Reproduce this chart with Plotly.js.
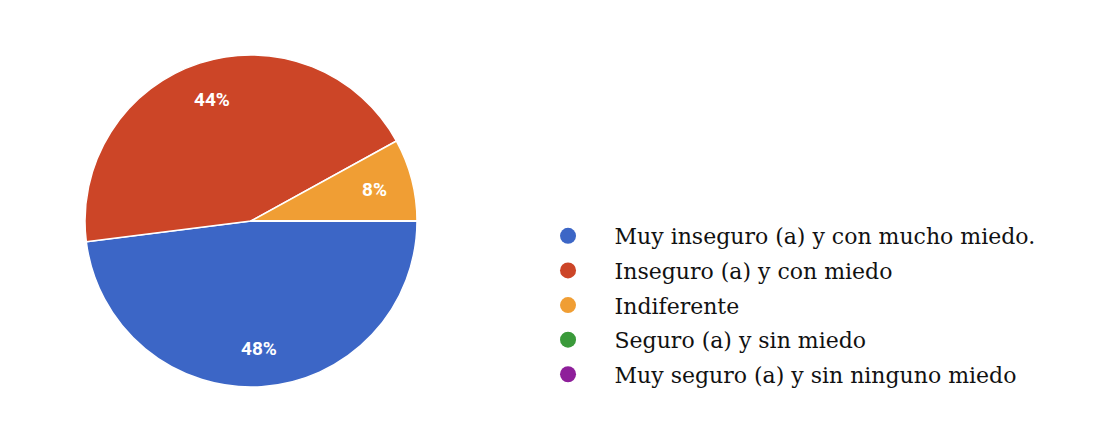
<!DOCTYPE html>
<html>
<head>
<meta charset="utf-8">
<script src="https://cdn.plot.ly/plotly-3.0.1.min.js"></script>
<style>
  html, body { margin: 0; padding: 0; background: #fff; }
  #chart { width: 1112px; height: 448px; }
</style>
</head>
<body>
<div id="chart"></div>
<script>
// survey answers and their share (%)
const labels = [
    'Muy inseguro (a) y con mucho miedo.',
    'Inseguro (a) y con miedo',
    'Indiferente',
    'Seguro (a) y sin miedo',
    'Muy seguro (a) y sin ninguno miedo'
];
const values = [48, 44, 8, 0, 0];
const colors = ['#3c66c6', '#cc4527', '#f09e34', '#3a9a3a', '#8e1f9a'];

const W = 1112, H = 448;
const cx = 251, cy = 221, r = 166;
const startAngle = 0;      // slices start at 3 o'clock, going clockwise
const labelRadius = 0.77;  // labels sit out toward the rim

const pie = {
    type: 'pie',
    labels: labels,
    values: values,
    sort: false,
    direction: 'clockwise',
    rotation: 90,
    marker: { colors: colors, line: { color: '#ffffff', width: 1.5 } },
    textinfo: 'none',
    showlegend: false,
    hoverinfo: 'label+percent',
    domain: {
        x: [(cx - r) / W, (cx + r) / W],
        y: [(H - cy - r) / H, (H - cy + r) / H]
    }
};

// percent labels placed on each slice's middle angle
const total = values.reduce((a, b) => a + b, 0);
const annotations = [];
let acc = 0;
values.forEach((v, i) => {
    if (v > 0) {
        const mid = (startAngle + (acc + v / 2) / total * 360) * Math.PI / 180;
        const px = cx + Math.cos(mid) * r * labelRadius;
        const py = cy + Math.sin(mid) * r * labelRadius;
        annotations.push({
            xref: 'paper', yref: 'paper',
            x: px / W, y: 1 - py / H,
            xanchor: 'center', yanchor: 'middle',
            text: Math.round(v / total * 100) + '%',
            showarrow: false,
            font: { color: '#ffffff', size: 19, family: 'Roboto, Arial, sans-serif', weight: 'bold' }
        });
    }
    acc += v;
});

// legend entries with round markers
const legendTraces = labels.map((l, i) => ({
    type: 'scatter',
    mode: 'markers',
    x: [null],
    y: [null],
    name: l,
    legendgroup: 'g' + i,
    marker: { color: colors[i], size: 18, symbol: 'circle' },
    showlegend: true
}));

Plotly.newPlot('chart', [pie].concat(legendTraces), {
    width: W,
    height: H,
    margin: { l: 0, r: 0, t: 0, b: 0 },
    paper_bgcolor: '#ffffff',
    plot_bgcolor: '#ffffff',
    xaxis: { visible: false },
    yaxis: { visible: false },
    showlegend: true,
    annotations: annotations,
    legend: {
        x: 0.469,
        y: 0.52,
        xanchor: 'left',
        yanchor: 'top',
        traceorder: 'grouped',
        tracegroupgap: 3,
        itemwidth: 83,
        font: { family: '"DejaVu Serif", "Liberation Serif", serif', size: 22, color: '#111' },
        bgcolor: 'rgba(0,0,0,0)'
    }
}, { displayModeBar: false, staticPlot: true });
</script>
</body>
</html>
